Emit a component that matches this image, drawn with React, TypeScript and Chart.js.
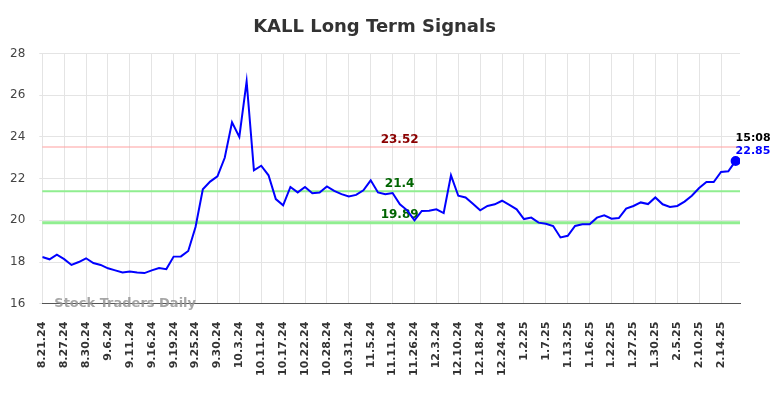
import React, { useEffect, useRef } from "react";
import { Chart, registerables } from "chart.js";

Chart.register(...registerables);

const TITLE = "KALL Long Term Signals";
const TICK_LABELS = [
  "8.21.24", "8.27.24", "8.30.24", "9.6.24", "9.11.24", "9.16.24", "9.19.24", "9.25.24",
  "9.30.24", "10.3.24", "10.11.24", "10.17.24", "10.22.24", "10.28.24", "10.31.24", "11.5.24",
  "11.11.24", "11.26.24", "12.3.24", "12.10.24", "12.18.24", "12.24.24", "1.2.25", "1.7.25",
  "1.13.25", "1.16.25", "1.22.25", "1.27.25", "1.30.25", "2.5.25", "2.10.25", "2.14.25",
];
const POINTS_PER_TICK = 3;
const PRICES = [
  18.24, 18.13, 18.35, 18.14, 17.86, 18.0, 18.18, 17.95, 17.86, 17.7,
  17.6, 17.5, 17.55, 17.5, 17.47, 17.6, 17.71, 17.66, 18.26, 18.27,
  18.53, 19.68, 21.49, 21.86, 22.11, 23.0, 24.7, 24.0, 26.67, 22.4,
  22.62, 22.16, 21.02, 20.72, 21.6, 21.34, 21.6, 21.3, 21.34, 21.63,
  21.41, 21.26, 21.15, 21.22, 21.44, 21.92, 21.34, 21.25, 21.31, 20.77,
  20.48, 20.0, 20.45, 20.46, 20.53, 20.35, 22.16, 21.18, 21.1, 20.8,
  20.48, 20.69, 20.77, 20.94, 20.74, 20.53, 20.06, 20.13, 19.89, 19.84,
  19.73, 19.18, 19.26, 19.73, 19.81, 19.81, 20.13, 20.24, 20.08, 20.11,
  20.56, 20.69, 20.86, 20.78, 21.1, 20.77, 20.64, 20.69, 20.9, 21.18,
  21.55, 21.84, 21.84, 22.32, 22.35, 22.85,
];
const LAST_TIME = "15:08";
const RESISTANCE = 23.52;
const MID_LEVEL = 21.4;
const SUPPORT = 19.89;
const Y_MIN = 16;
const Y_MAX = 28;
const Y_STEP = 2;
const WATERMARK = "Stock Traders Daily";
const FONT = "'DejaVu Sans', sans-serif";

const levelsPlugin = {
  id: "levels",
  beforeDatasetsDraw(chart: any) {
    const { ctx, chartArea, scales } = chart;
    const y = scales.y;
    const levels = [
      { v: RESISTANCE, line: "rgba(255,160,160,0.5)", w: 2, text: "#8b0000", label: String(RESISTANCE) },
      { v: MID_LEVEL, line: "#90ee90", w: 2, text: "#006400", label: String(MID_LEVEL) },
      { v: SUPPORT, line: "#90ee90", w: 3, text: "#006400", label: String(SUPPORT) },
    ];
    const cx = (chartArea.left + chartArea.right) / 2 + 8.5;
    ctx.save();
    for (const l of levels) {
      const py = y.getPixelForValue(l.v);
      ctx.beginPath();
      ctx.strokeStyle = l.line;
      ctx.lineWidth = l.w;
      ctx.moveTo(chartArea.left, py);
      ctx.lineTo(chartArea.right, py);
      ctx.stroke();
    }
    ctx.font = `bold 12px ${FONT}`;
    ctx.textAlign = "center";
    ctx.textBaseline = "middle";
    for (const l of levels) {
      const py = y.getPixelForValue(l.v);
      ctx.fillStyle = l.text;
      ctx.fillText(l.label, cx, py - 7.5);
    }
    ctx.restore();
  },
  afterDatasetsDraw(chart: any) {
    const { ctx, chartArea } = chart;
    const meta = chart.getDatasetMeta(0);
    const last = meta.data[meta.data.length - 1];
    ctx.save();
    ctx.font = `bold 11px ${FONT}`;
    ctx.textAlign = "left";
    ctx.textBaseline = "middle";
    ctx.fillStyle = "#000";
    ctx.fillText(LAST_TIME, last.x, last.y - 23);
    ctx.fillStyle = "#0000ff";
    ctx.fillText(PRICES[PRICES.length - 1].toFixed(2), last.x, last.y - 10);
    ctx.font = `bold 13px ${FONT}`;
    ctx.fillStyle = "rgba(150,150,150,0.85)";
    ctx.fillText(WATERMARK, chartArea.left + 12, chartArea.bottom);
    // title (layout space reserved by the built-in title block)
    const tb = chart.titleBlock;
    if (tb) {
      ctx.font = `bold 18px ${FONT}`;
      ctx.textAlign = "center";
      ctx.fillStyle = "#333";
      ctx.fillText(TITLE, (tb.left + tb.right) / 2 + 6.5, tb.top + 9 + 10.8);
    }
    ctx.restore();
  },
};

export default function App() {
  const ref = useRef<HTMLCanvasElement | null>(null);
  useEffect(() => {
    if (!ref.current) return;
    const lastIdx = PRICES.length - 1;
    const chart = new Chart(ref.current, {
      type: "line",
      data: {
        datasets: [
          {
            data: PRICES.map((v, i) => ({ x: i, y: v })),
            borderColor: "#0000ff",
            backgroundColor: "#0000ff",
            borderWidth: 2,
            tension: 0,
            pointRadius: (c: any) => (c.dataIndex === lastIdx ? 4 : 0),
            pointHoverRadius: 0,
          },
        ],
      },
      options: {
        animation: false,
        responsive: true,
        maintainAspectRatio: false,
        layout: { padding: { left: -12, right: 36, top: 0, bottom: -4 } },
        plugins: {
          legend: { display: false },
          tooltip: { enabled: false },
          title: {
            display: true,
            text: TITLE,
            color: "rgba(0,0,0,0)",
            font: { family: FONT, size: 18, weight: "bold" },
            padding: { top: 9, bottom: 15 },
          },
        },
        scales: {
          x: {
            type: "linear",
            min: 0,
            max: lastIdx + 0.6,
            afterBuildTicks: (scale: any) => {
              scale.ticks = TICK_LABELS.map((_, k) => ({ value: k * POINTS_PER_TICK }));
            },
            ticks: {
              autoSkip: false,
              maxRotation: 90,
              minRotation: 90,
              padding: 18,
              color: "#333",
              font: { family: FONT, size: 11, weight: "bold" },
              callback: (v: any) => TICK_LABELS[Math.round(v / POINTS_PER_TICK)] ?? "",
            },
            grid: { color: "#e4e4e4", drawTicks: false },
            border: { color: "#555", width: 1 },
          },
          y: {
            min: Y_MIN,
            max: Y_MAX,
            ticks: {
              stepSize: Y_STEP,
              padding: 14,
              color: "#444",
              font: { family: FONT, size: 12 },
            },
            grid: { color: "#e4e4e4", tickLength: 3 },
            border: { display: false },
          },
        },
      },
      plugins: [levelsPlugin],
    });
    return () => chart.destroy();
  }, []);
  return (
    <div style={{ width: 768, height: 382, position: "relative" }}>
      <canvas ref={ref} />
    </div>
  );
}
